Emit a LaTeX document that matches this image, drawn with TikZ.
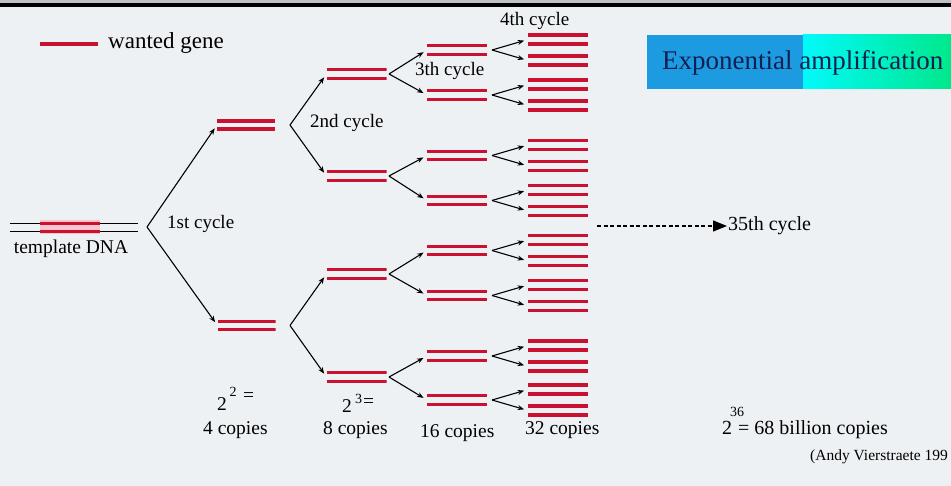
\documentclass[tikz,border=0pt]{standalone}
\usepackage{fontspec}
\setmainfont{Liberation Serif}
\usetikzlibrary{arrows.meta}
\definecolor{bg}{RGB}{238,241,244}
\definecolor{topgray}{RGB}{190,192,195}
\definecolor{gene}{RGB}{200,18,48}
\definecolor{halo}{RGB}{250,196,206}
\definecolor{boxblue}{RGB}{28,155,225}
\definecolor{boxcyan}{RGB}{0,250,250}
\definecolor{boxgreen}{RGB}{0,232,140}
\definecolor{navy}{RGB}{20,30,80}
\newcommand\pxsize[1]{\fontsize{#1}{#1}\selectfont}

\tikzset{
  geneline/.style={draw=gene, line width=3.1pt},
  % a double-stranded copy: two parallel red strands
  duplex/.style 2 args={minimum width=#1, minimum height=14pt, inner sep=0pt, outer sep=0pt,
    path picture={
      \draw[geneline] ([yshift=#2]path picture bounding box.west) -- ([yshift=#2]path picture bounding box.east);
      \draw[geneline] ([yshift=-#2]path picture bounding box.west) -- ([yshift=-#2]path picture bounding box.east);
    }},
  copy/.style={duplex={60pt}{4.3pt}},
  conn/.style={line width=1.1pt, -{Stealth[length=6.5pt,width=5pt]}, shorten >=4pt},
  lbl/.style={inner sep=0pt, anchor=base west, font=\pxsize{19.5}},
  suplbl/.style={inner sep=0pt, anchor=base west, font=\pxsize{14}},
}

\begin{document}
\begin{tikzpicture}[x=1pt,y=-1pt]
\useasboundingbox (0,0) rectangle (951,486);
\fill[bg] (0,0) rectangle (951,486);
\fill[topgray] (0,0) rectangle (951,3.3);
\fill[black] (0,3.3) rectangle (951,7.3);

% legend
\node[minimum width=58pt, minimum height=3.2pt, inner sep=0pt, fill=gene] (legend) at (69,44) {};
\node[inner sep=0pt, anchor=base west, font=\pxsize{23}] (legtxt) at (108,49) {wanted gene};

% title box
\fill[boxblue] (647,35) rectangle (803,89);
\shade[left color=boxcyan, right color=boxgreen] (803,35) rectangle (951,89);
\node[inner sep=0pt, anchor=base west, text=navy, font=\pxsize{27}] (title) at (662,70) {Exponential amplification};

% template DNA
\node[minimum width=128pt, minimum height=13pt, inner sep=0pt,
  path picture={
    \draw[line width=1.5pt] ([yshift=4.2pt]path picture bounding box.west) -- ([yshift=4.2pt]path picture bounding box.east);
    \draw[line width=1.5pt] ([yshift=-4.2pt]path picture bounding box.west) -- ([yshift=-4.2pt]path picture bounding box.east);
  }] (tmpl) at (74,227.5) {};
\node[duplex={60pt}{4.2pt}, fill=halo] (tgene) at (70,227.5) {};
\node[inner sep=0pt, anchor=base, font=\pxsize{19.5}] (tmpltxt) at (71,254) {template DNA};

% 1st cycle
\coordinate (f0) at (147,227);
\node[duplex={58pt}{4pt}] (c1a) at (246,125) {};
\node[duplex={58pt}{4pt}] (c1b) at (246.5,325.5) {};
\draw[conn] (f0) -- (c1a.west);
\draw[conn] (f0) -- (c1b.west);
\node[lbl, font=\pxsize{19}] (l1) at (167,229) {1st cycle};

% 2nd cycle
\coordinate (f1a) at (290,125);
\coordinate (f1b) at (290,325.5);
\node[copy] (c2a) at (356.5,74) {};
\node[copy] (c2b) at (356.5,176) {};
\node[copy] (c2c) at (356.5,274) {};
\node[copy] (c2d) at (356.5,377) {};
\draw[conn] (f1a) -- (c2a.west);
\draw[conn] (f1a) -- (c2b.west);
\draw[conn] (f1b) -- (c2c.west);
\draw[conn] (f1b) -- (c2d.west);
\node[lbl, font=\pxsize{19}] (l2) at (310,128) {2nd cycle};

% 3rd cycle
\foreach \p/\ya/\yb/\yp in {a/50/95/74, b/155.5/200.5/176, c/250.5/295.5/274, d/356/400/377}{
  \coordinate (f2\p) at (389,\yp);
  \node[copy] (c3\p1) at (457,\ya) {};
  \node[copy] (c3\p2) at (457,\yb) {};
  \draw[conn] (f2\p) -- (c3\p1.west);
  \draw[conn] (f2\p) -- (c3\p2.west);
}
\node[lbl, font=\pxsize{19}] (l3) at (415,76) {3th cycle};

% 4th cycle
\foreach \p/\yp in {a1/50, a2/95, b1/155.5, b2/200.5, c1/250.5, c2/295.5, d1/356, d2/400}{
  \coordinate (f3\p) at (492,\yp);
  \node[duplex={60pt}{4.5pt}] (c4\p u) at (558,\yp-10.5) {};
  \node[duplex={60pt}{4.5pt}] (c4\p d) at (558,\yp+10.5) {};
  \draw[conn] (f3\p) -- (c4\p u.west);
  \draw[conn] (f3\p) -- (c4\p d.west);
}
\node[lbl, font=\pxsize{19}] (l4) at (500,26) {4th cycle};

% on to the 35th cycle
\coordinate (dstart) at (597,226);
\node[inner sep=1pt, anchor=base west, font=\pxsize{20}] (c35) at (727,231) {35th cycle};
\draw[line width=1.2pt, dash pattern=on 4pt off 2.5pt, -{Triangle[length=14pt,width=11pt]}] (dstart) -- (dstart -| c35.west);

% copy counts
\node[lbl] (p2b) at (217,410) {2};
\node[suplbl] (p2e) at (229.5,397) {2};
\node[lbl] (p2q) at (243,402) {=};
\node[lbl] (n4) at (203,435) {4 copies};

\node[lbl] (p3b) at (342,413) {2};
\node[suplbl] (p3e) at (355,403) {3};
\node[lbl] (p3q) at (363,407) {=};
\node[lbl] (n8) at (323,435) {8 copies};

\node[lbl] (n16) at (420,437) {16 copies};
\node[lbl] (n32) at (525,435) {32 copies};

\node[lbl, font=\pxsize{20}] (p36b) at (722,435) {2};
\node[suplbl] (p36e) at (730,416.5) {36};
\node[lbl, font=\pxsize{20}] (n36) at (738,435) {= 68 billion copies};

\node[inner sep=0pt, anchor=base west, font=\pxsize{15.5}] (credit) at (810,460) {(Andy Vierstraete 199};
\end{tikzpicture}
\end{document}
